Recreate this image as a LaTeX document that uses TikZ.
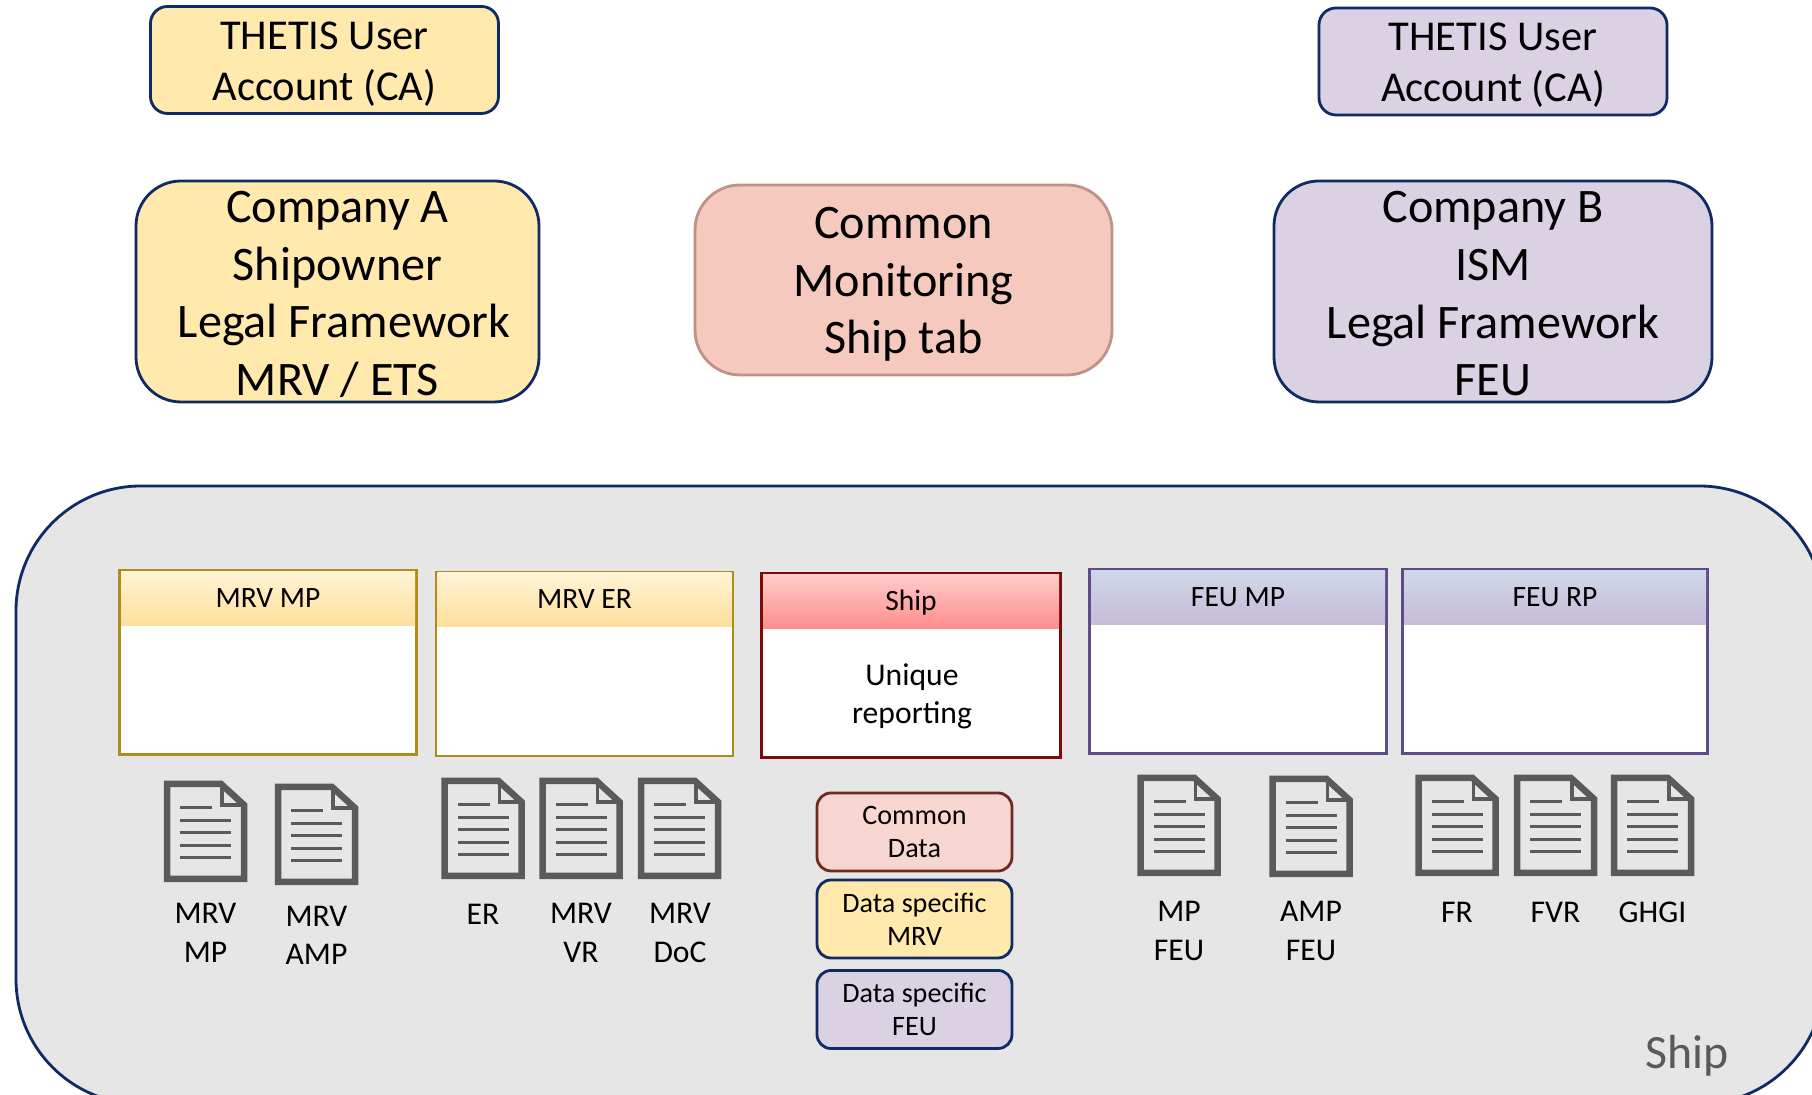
\documentclass[tikz,border=0pt]{standalone}
\usepackage{xcolor}
\usepackage{fontspec}
\setmainfont{Carlito}
\definecolor{mrvfill}{RGB}{255,233,173}
\definecolor{feufill}{RGB}{218,210,227}
\definecolor{commonfill}{RGB}{245,201,189}
\definecolor{commonline}{RGB}{190,146,134}
\definecolor{navyline}{RGB}{16,42,102}
\definecolor{shipgrey}{RGB}{230,230,230}
\definecolor{docgrey}{RGB}{90,90,90}
\definecolor{mrvline}{RGB}{176,140,26}
\definecolor{redline}{RGB}{123,10,10}
\definecolor{feuline}{RGB}{95,75,133}
\definecolor{brownline}{RGB}{110,42,30}
\definecolor{pinkfill}{RGB}{248,215,210}
\definecolor{feutop}{RGB}{207,216,234}
\definecolor{feubottom}{RGB}{198,187,216}
\newcommand{\Hugetext}{\fontsize{13.7}{16.4}\selectfont}
\newcommand{\Largetext}{\fontsize{12.1}{14.5}\selectfont}
\newcommand{\Labeltext}{\fontsize{9}{10.9}\selectfont}
\newcommand{\Headtext}{\fontsize{8.4}{10}\selectfont}
\newcommand{\Smalltext}{\fontsize{8}{9.5}\selectfont}
\newcommand{\Sink}[1]{\rule{0pt}{#1}}
\tikzstyle{box}=[draw=navyline,line width=.8pt,align=center,inner sep=0pt]
\tikzstyle{account}=[box,minimum width=3.48cm,minimum height=1.07cm,rounded corners=.17cm,font=\Largetext]
\tikzstyle{company}=[box,minimum width=4.03cm,minimum height=2.21cm,rounded corners=.45cm,font=\Hugetext]
\tikzstyle{panel}=[fill=white,line width=.8pt,minimum height=1.84cm,inner sep=0pt]
\tikzstyle{header}=[anchor=north,minimum height=.54cm,inner sep=0pt,text height=5.2pt,text depth=0pt,font=\Headtext]
\tikzstyle{pill}=[box,minimum width=1.95cm,minimum height=.78cm,rounded corners=.14cm,font=\Smalltext]
\tikzstyle{doclabel}=[align=center,font=\Labeltext]
\tikzset{
  docicon/.pic={
    \draw[docgrey,line width=.065cm] (.03,-.03) -- (.57,-.03) -- (.80,-.24) -- (.80,-.98) -- (.03,-.98) -- cycle;
    \draw[docgrey,line width=.035cm] (.58,-.04) -- (.58,-.24) -- (.79,-.24);
    \draw[docgrey,line width=.03cm] (.16,-.27) -- (.48,-.27);
    \draw[docgrey,line width=.03cm] (.16,-.395) -- (.67,-.395);
    \draw[docgrey,line width=.03cm] (.16,-.52) -- (.67,-.52);
    \draw[docgrey,line width=.03cm] (.16,-.645) -- (.67,-.645);
    \draw[docgrey,line width=.03cm] (.16,-.77) -- (.67,-.77);
  }
}

\begin{document}
\begin{tikzpicture}
  \clip (0,.01) rectangle (18.12,10.96);
  \useasboundingbox (0,.01) rectangle (18.12,10.96);

  %% Top row
  \draw (3.245,10.36) node[account,fill=mrvfill] (A1) {\Sink{10.1pt}THETIS User\\Account (CA)};
  \draw (14.93,10.345) node[account,fill=feufill] (A2) {\Sink{10.1pt}THETIS User\\Account (CA)};

  \draw (3.375,8.045) node[company,fill=mrvfill] (C1) {\Sink{10.6pt}Company A\\Shipowner\\\hspace*{.27em}Legal Framework\\MRV / ETS};
  \draw (9.035,8.16) node[company,fill=commonfill,draw=commonline,minimum width=4.17cm,minimum height=1.9cm] (C2) {\Sink{11.5pt}Common\\Monitoring\\Ship tab};
  \draw (14.93,8.045) node[company,fill=feufill,minimum width=4.38cm] (C3) {\Sink{10.2pt}Company B\\ISM\\Legal Framework\\FEU};

  %% Ship area
  \draw (9.2,3.01) node[box,fill=shipgrey,minimum width=18.08cm,minimum height=6.18cm,rounded corners=1.25cm] (S) {};
  \draw (16.87,.40) node[text=docgrey,font=\fontsize{13.6}{16}\selectfont] (Slabel) {Ship};

  %% Panels
  \draw (2.68,4.335) node[panel,draw=mrvline,minimum width=2.97cm] (P1) {};
  \draw (5.845,4.32) node[panel,draw=mrvline,minimum width=2.97cm] (P2) {};
  \draw (9.11,4.305) node[panel,draw=redline,minimum width=2.99cm] (P3) {};
  \draw (12.38,4.345) node[panel,draw=feuline,minimum width=2.97cm] (P4) {};
  \draw (15.55,4.345) node[panel,draw=feuline,minimum width=3.05cm] (P5) {};

  \draw ([yshift=-.4pt]P1.north) node[header,minimum width=2.94cm,top color=mrvfill!50!white,bottom color=mrvfill!90!orange] (H1) {MRV MP};
  \draw ([yshift=-.4pt]P2.north) node[header,minimum width=2.94cm,top color=mrvfill!50!white,bottom color=mrvfill!90!orange] (H2) {MRV ER};
  \draw ([yshift=-.4pt]P3.north) node[header,minimum width=2.96cm,top color=red!20!white,bottom color=red!45!white] (H3) {Ship};
  \draw ([yshift=-.4pt]P4.north) node[header,minimum width=2.94cm,top color=feutop,bottom color=feubottom] (H4) {FEU MP};
  \draw ([yshift=-.4pt]P5.north) node[header,minimum width=3.02cm,top color=feutop,bottom color=feubottom] (H5) {FEU RP};

  \draw (9.12,4.01) node[doclabel] (U) {\Sink{7pt}Unique\\reporting};

  %% Data boxes
  \draw (9.145,2.64) node[pill,fill=pinkfill,draw=brownline] (D1) {Common\\Data};
  \draw (9.145,1.77) node[pill,fill=mrvfill] (D2) {Data specific\\MRV};
  \draw (9.145,.865) node[pill,fill=feufill] (D3) {Data specific\\FEU};

  %% Documents
  \pic at (1.64,3.15) {docicon};
  \pic at (2.75,3.12) {docicon};
  \pic at (4.415,3.18) {docicon};
  \pic at (5.395,3.18) {docicon};
  \pic at (6.38,3.18) {docicon};
  \pic at (11.375,3.21) {docicon};
  \pic at (12.695,3.2) {docicon};
  \pic at (14.155,3.21) {docicon};
  \pic at (15.14,3.21) {docicon};
  \pic at (16.11,3.21) {docicon};

  \draw (2.055,1.63) node[doclabel] (L1) {MRV\\MP};
  \draw (3.165,1.605) node[doclabel] (L2) {MRV\\AMP};
  \draw (4.83,1.82) node[doclabel] (L3) {ER};
  \draw (5.81,1.63) node[doclabel] (L4) {MRV\\VR};
  \draw (6.8,1.63) node[doclabel] (L5) {MRV\\DoC};
  \draw (11.79,1.65) node[doclabel] (L6) {MP\\FEU};
  \draw (13.11,1.65) node[doclabel] (L7) {AMP\\FEU};
  \draw (14.57,1.84) node[doclabel] (L8) {FR};
  \draw (15.555,1.84) node[doclabel] (L9) {FVR};
  \draw (16.525,1.84) node[doclabel] (L10) {GHGI};
\end{tikzpicture}
\end{document}
